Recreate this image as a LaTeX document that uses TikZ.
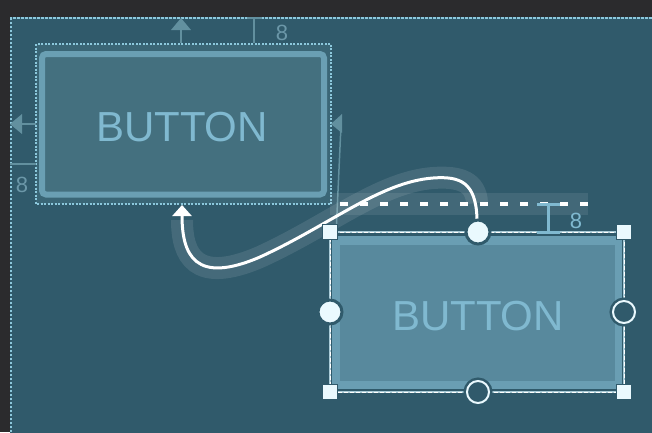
\documentclass[tikz,border=0pt]{standalone}
\usepackage{fontspec}
\setmainfont{Liberation Sans}
\usetikzlibrary{arrows.meta}
\definecolor{frame}{HTML}{2B2B2D}
\definecolor{canvas}{HTML}{305A6B}
\definecolor{canvasline}{HTML}{8CC8DC}
\definecolor{bonefill}{HTML}{44707F}
\definecolor{bonehalo}{HTML}{3A6676}
\definecolor{boneborder}{HTML}{6A9FB3}
\definecolor{btwoborder}{HTML}{6A9EB3}
\definecolor{btwofill}{HTML}{58899D}
\definecolor{btntxt}{HTML}{80B9D0}
\definecolor{cline}{HTML}{62909F}
\definecolor{numc}{HTML}{6B97A8}
\definecolor{hw}{HTML}{EAF9FE}
\definecolor{selgray}{HTML}{A9CBD7}
\tikzset{
  btntext/.style={inner sep=0pt, text=btntxt, font=\fontsize{42}{42}\selectfont},
  numlbl/.style={inner sep=0pt, text=numc, font=\fontsize{22}{22}\selectfont},
  numlbltwo/.style={inner sep=0pt, text=btntxt, font=\fontsize{22}{22}\selectfont},
  selbox/.style={draw=canvasline, line width=1.4pt, dash pattern=on 2pt off 1.5pt},
  canvasbox/.style={draw=canvasline, line width=2pt, dash pattern=on 2.5pt off 1.5pt},
  conline/.style={draw=cline, line width=2pt},
  handlesq/.style={rectangle, draw=canvas, fill=hw, line width=1.5pt, minimum size=15pt, inner sep=0pt},
  handlefull/.style={circle, draw=canvas, fill=hw, line width=3pt, minimum size=24pt, inner sep=0pt},
  handleempty/.style={circle, draw=hw, fill=canvas, line width=2pt, minimum size=22pt, inner sep=0pt,
    preaction={draw=canvas, line width=7pt}},
  tmark/.style={draw=btntxt, line width=3pt},
}
\begin{document}
\begin{tikzpicture}[x=1pt,y=-1pt]
\useasboundingbox (0,0) rectangle (652,432);
\fill[frame] (0,0) rectangle (652,432);
\fill[canvas] (10,17) rectangle (660,440);
\draw[canvasbox] (11,440) -- (11,18) -- (660,18);

% ---- button 1 ----
\fill[bonehalo] (36,44) rectangle (331,204);
\draw[draw=boneborder, fill=bonefill, line width=6pt, rounded corners=4pt] (42,54) rectangle (324,194.5);
\node[btntext] (b1) at (182,127) {BUTTON};
\draw[selbox] (36,44) rectangle (331,204);

% constraint arrows of button 1
\coordinate (b1top) at (181,43);
\coordinate (topend) at (181,29);
\draw[conline] (b1top) -- (topend);
\fill[cline] (171,30) -- (191,30) -- (181,18) -- cycle;
\coordinate (tickA) at (254,17);
\coordinate (tickB) at (254,43);
\draw[conline] (tickA) -- (tickB);
\draw[conline] (247,18) -- (262,18);
\node[numlbl] (n1) at (282,33) {8};

\coordinate (b1left) at (36,124);
\coordinate (leftend) at (22,124);
\draw[conline] (b1left) -- (leftend);
\fill[cline] (22,114) -- (22,134) -- (10,124) -- cycle;
\coordinate (hA) at (10,164);
\coordinate (hB) at (36,164);
\draw[conline] (hA) -- (hB);
\node[numlbl] (n2) at (22,185) {8};

\fill[cline] (342,114) -- (342,133) -- (331,124) -- cycle;
\coordinate (rA) at (341,125);
\coordinate (rB) at (336.5,224);
\draw[draw=cline, line width=1.5pt] (rA) -- (rB);

% ---- button 2 ----
\fill[btwoborder] (332,236) rectangle (622,389);
\fill[btwofill] (340,245) rectangle (615,381);
\node[btntext] (b2) at (478,316) {BUTTON};
\draw[draw=selgray, line width=1.6pt] (330,232) rectangle (624,392);
\draw[draw=white, line width=1pt, dash pattern=on 4pt off 2pt] (330,232) rectangle (624,392);

% baseline dashed guide
\fill[white, opacity=0.09] (330,193) rectangle (588,215);
\coordinate (dA) at (340,204);
\coordinate (dB) at (590,204);
\draw[white, line width=4pt, dash pattern=on 8pt off 12pt] (dA) -- (dB);

% margin marker
\coordinate (tA) at (548,204);
\coordinate (tB) at (548,232.5);
\draw[tmark] (tA) -- (tB);
\draw[tmark] (537,204) -- (560,204);
\draw[tmark] (537,232.5) -- (560,232.5);
\node[numlbltwo] (n3) at (576,221) {8};

% curve connector
\coordinate (cstart) at (477,219);
\coordinate (cend) at (182,205);
\draw[white, opacity=0.10, line width=22pt] (477,203) .. controls (476,182) and (460,176) .. (433,178)
  .. controls (380,182) and (330,225) .. (260,257) .. controls (195,285) and (182,255) .. (182,220);
\draw[white, line width=3pt, -{Triangle[width=19pt,length=11pt]}] (cstart) .. controls (476,182) and (460,176) .. (433,178)
  .. controls (380,182) and (330,225) .. (260,257) .. controls (195,285) and (182,255) .. (cend);

% handles
\node[handlesq] (h1) at (330,232) {};
\node[handlesq] (h2) at (624,232) {};
\node[handlesq] (h3) at (330,392) {};
\node[handlesq] (h4) at (624,392) {};
\node[handlefull] (ctop) at (478,232) {};
\node[handlefull] (cleft) at (330,312) {};
\node[handleempty] (cright) at (624,312) {};
\node[handleempty] (cbot) at (478,392) {};
\end{tikzpicture}
\end{document}
